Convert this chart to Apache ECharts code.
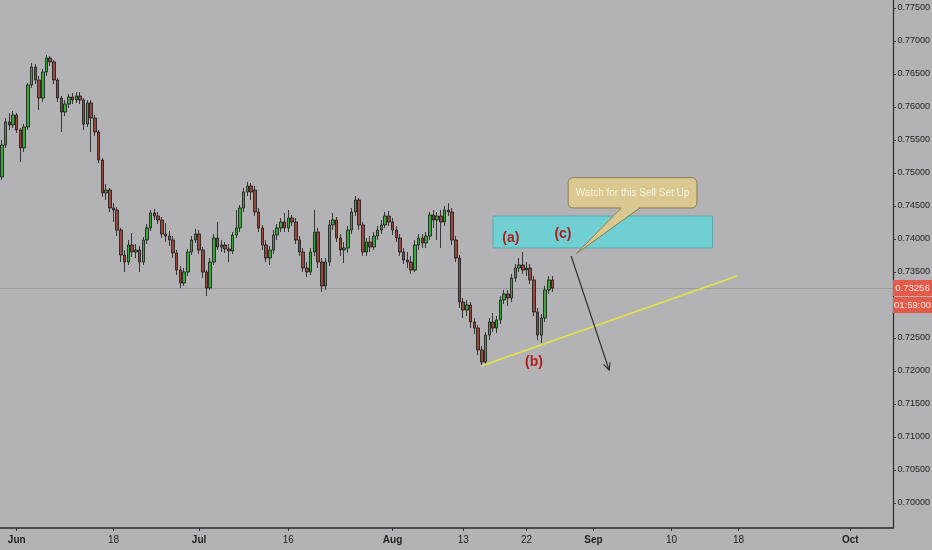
<!DOCTYPE html>
<html>
<head>
<meta charset="utf-8">
<script src="https://cdn.jsdelivr.net/npm/echarts@6/dist/echarts.min.js"></script>
<style>
html,body{margin:0;padding:0;background:#b3b3b5;}
#c{width:932px;height:550px;}
</style>
</head>
<body>
<div id="c"></div>
<script>
// ---- data ----
const SLOT_COUNT = 240; // time slots on the axis (candles + future space)
// candles: [open, close, low, high]
const candles = [
[0.74939,0.75424,0.74894,0.75500],[0.75424,0.75773,0.75379,0.75833],[0.75773,0.75727,0.75651,0.75909],[0.75727,0.75879,0.75682,0.75939],
[0.75879,0.75651,0.75606,0.75909],[0.75651,0.75379,0.75167,0.75682],[0.75379,0.75697,0.75318,0.75742],[0.75697,0.76333,0.75651,0.76364],
[0.76333,0.76606,0.76288,0.76667],[0.76606,0.76409,0.76348,0.76652],[0.76409,0.76136,0.75955,0.76470],[0.76136,0.76530,0.76076,0.76576],
[0.76530,0.76742,0.76470,0.76788],[0.76742,0.76682,0.76621,0.76773],[0.76682,0.76409,0.76348,0.76712],[0.76409,0.76136,0.76076,0.76439],
[0.76136,0.75924,0.75621,0.76167],[0.75924,0.76045,0.75864,0.76106],[0.76045,0.76151,0.75985,0.76197],[0.76151,0.76106,0.76045,0.76212],
[0.76106,0.76167,0.76061,0.76227],[0.76167,0.76106,0.76045,0.76227],[0.76106,0.75742,0.75651,0.76136],[0.75742,0.76061,0.75697,0.76106],
[0.76061,0.75833,0.75318,0.76106],[0.75833,0.75621,0.75561,0.75879],[0.75621,0.75197,0.75151,0.75651],[0.75197,0.74697,0.74636,0.75227],
[0.74697,0.74742,0.74591,0.74833],[0.74742,0.74470,0.74409,0.74773],[0.74470,0.74439,0.74258,0.74545],[0.74439,0.74136,0.74045,0.74485],
[0.74136,0.73757,0.73651,0.74167],[0.73757,0.73651,0.73500,0.73833],[0.73651,0.73909,0.73606,0.73985],[0.73909,0.73803,0.73727,0.74091],
[0.73803,0.73833,0.73712,0.73924],[0.73833,0.73651,0.73500,0.73894],[0.73651,0.73985,0.73606,0.74030],[0.73985,0.74167,0.73924,0.74227],
[0.74167,0.74394,0.74121,0.74439],[0.74394,0.74348,0.74288,0.74454],[0.74348,0.74288,0.74227,0.74409],[0.74288,0.74075,0.74015,0.74333],
[0.74075,0.74045,0.73954,0.74242],[0.74045,0.73985,0.73894,0.74121],[0.73985,0.73788,0.73712,0.74045],[0.73788,0.73530,0.73454,0.73833],
[0.73530,0.73333,0.73256,0.73591],[0.73333,0.73500,0.73288,0.73560],[0.73500,0.73803,0.73439,0.73848],[0.73803,0.73985,0.73757,0.74045],
[0.73985,0.74075,0.73939,0.74151],[0.74075,0.73833,0.73773,0.74136],[0.73833,0.73500,0.73409,0.73879],[0.73500,0.73256,0.73136,0.73530],
[0.73256,0.73651,0.73227,0.73712],[0.73651,0.74015,0.73606,0.74075],[0.74015,0.73879,0.73833,0.74258],[0.73879,0.73909,0.73803,0.73985],
[0.73909,0.73848,0.73788,0.73954],[0.73848,0.73818,0.73651,0.73924],[0.73818,0.74060,0.73773,0.74106],[0.74060,0.74167,0.74015,0.74439],
[0.74167,0.74470,0.74106,0.74515],[0.74470,0.74712,0.74409,0.74773],[0.74712,0.74803,0.74651,0.74864],[0.74803,0.74712,0.74591,0.74848],
[0.74742,0.74409,0.74348,0.74803],[0.74409,0.74167,0.74106,0.74470],[0.74167,0.73909,0.73833,0.74212],[0.73909,0.73712,0.73651,0.73985],
[0.73712,0.73833,0.73606,0.73894],[0.73833,0.74060,0.73773,0.74136],[0.74060,0.74167,0.73985,0.74227],[0.74167,0.74258,0.74106,0.74318],
[0.74258,0.74167,0.74106,0.74394],[0.74167,0.74318,0.74106,0.74439],[0.74318,0.74258,0.74197,0.74364],[0.74258,0.73985,0.73924,0.74318],
[0.73985,0.73803,0.73742,0.74045],[0.73803,0.73560,0.73500,0.73863],[0.73560,0.73500,0.73424,0.73651],[0.73500,0.73803,0.73454,0.73863],
[0.73803,0.74106,0.73742,0.74439],[0.74106,0.73651,0.73560,0.74167],[0.73651,0.73288,0.73197,0.73712],[0.73288,0.73651,0.73227,0.73712],
[0.73651,0.74212,0.73591,0.74288],[0.74212,0.74288,0.74136,0.74394],[0.74288,0.74015,0.73954,0.74333],[0.74015,0.73833,0.73742,0.74075],
[0.73833,0.73863,0.73636,0.73954],[0.73863,0.74136,0.73788,0.74197],[0.74136,0.74409,0.74075,0.74470],[0.74409,0.74591,0.74348,0.74651],
[0.74591,0.74212,0.74136,0.74621],[0.74212,0.73803,0.73742,0.74258],[0.73803,0.73954,0.73742,0.74015],[0.73954,0.73879,0.73803,0.74045],
[0.73879,0.74045,0.73833,0.74106],[0.74045,0.74136,0.73985,0.74197],[0.74136,0.74212,0.74075,0.74288],[0.74212,0.74348,0.74167,0.74409],
[0.74348,0.74258,0.74197,0.74424],[0.74258,0.74136,0.74060,0.74318],[0.74136,0.74015,0.73954,0.74197],[0.74015,0.73803,0.73742,0.74075],
[0.73803,0.73682,0.73621,0.73863],[0.73682,0.73651,0.73560,0.73803],[0.73651,0.73530,0.73470,0.73742],[0.73530,0.73909,0.73500,0.73985],
[0.73909,0.74015,0.73833,0.74075],[0.74015,0.73939,0.73863,0.74075],[0.73939,0.74045,0.73863,0.74106],[0.74045,0.74364,0.73985,0.74409],
[0.74364,0.74288,0.74167,0.74439],[0.74288,0.74348,0.73985,0.74409],[0.74348,0.74258,0.73863,0.74439],[0.74258,0.74439,0.74197,0.74500],
[0.74439,0.74409,0.74348,0.74545],[0.74409,0.73985,0.73909,0.74470],[0.73985,0.73712,0.73651,0.74045],[0.73712,0.73045,0.72954,0.73757],
[0.73045,0.72924,0.72803,0.73106],[0.72924,0.73000,0.72833,0.73076],[0.73000,0.72742,0.72651,0.73045],[0.72742,0.72651,0.72560,0.72803],
[0.72651,0.72318,0.72242,0.72697],[0.72318,0.72136,0.72076,0.72379],[0.72136,0.72545,0.72106,0.72591],[0.72545,0.72742,0.72469,0.72803],
[0.72742,0.72651,0.72591,0.72878],[0.72651,0.72773,0.72576,0.72833],[0.72773,0.73076,0.72712,0.73136],[0.73076,0.73167,0.73015,0.73227],
[0.73167,0.73106,0.72985,0.73227],[0.73106,0.73409,0.73045,0.73470],[0.73409,0.73560,0.73348,0.73621],[0.73560,0.73606,0.73500,0.73712],
[0.73606,0.73530,0.73470,0.73803],[0.73530,0.73560,0.73439,0.73651],[0.73560,0.73379,0.73318,0.73621],[0.73379,0.72894,0.72833,0.73439],
[0.72894,0.72545,0.72469,0.72954],[0.72545,0.72803,0.72424,0.72863],[0.72803,0.73227,0.72742,0.73288],[0.73227,0.73379,0.73167,0.73439],
[0.73379,0.73256,0.73197,0.73439]
];
// x-axis tick labels and the slot they sit on
const xLabelSlots = [4, 30, 53, 77, 105, 124, 141, 159, 180, 198, 228];
const xLabelTexts = ['Jun', '18', 'Jul', '16', 'Aug', '13', '22', 'Sep', '10', '18', 'Oct'];
const xLabelIsMonth = [true, false, true, false, true, false, false, true, false, false, true];
// y-axis tick labels
const yTicks = [0.700,0.705,0.710,0.715,0.720,0.725,0.730,0.735,0.740,0.745,0.750,0.755,0.760,0.765,0.770,0.775];
const yMin = 0.69621, yMax = 0.77621;
const lastPrice = 0.73256;
const countdown = '01:59:00';
// annotations (slot, price)
const zoneSlots = [132, 191];
const zonePrices = [0.74348, 0.73864];
const waveLabels = [['(a)', 136.8, 0.74015], ['(b)', 143.0, 0.72136], ['(c)', 150.8, 0.74075]];
const trendLine = [[128.8, 0.72076], [197.6, 0.73439]];
const arrowLine = [[153.0, 0.73742], [163.2, 0.72015]];
const calloutText = 'Watch for this Sell Set Up';
const calloutSlots = [152.2, 186.8];
const calloutPrices = [0.74930, 0.74470];
const calloutTailBase = [166.5, 171.5];
const calloutTip = [154.3, 0.73773];

// ---- chart ----
const slots = Array.from({length: SLOT_COUNT}, (_, i) => String(i));
const chart = echarts.init(document.getElementById('c'), null, {renderer: 'canvas'});
const FONT = 'Liberation Sans, Arial, sans-serif';
chart.setOption({
  backgroundColor: '#b3b3b5',
  animation: false,
  grid: {left: 0, right: 39, top: 0, bottom: 22, containLabel: false, outerBoundsMode: 'none'},
  xAxis: [{
    type: 'category', data: slots, boundaryGap: true,
    axisLine: {show: true, onZero: false, lineStyle: {color: '#2a2a2a', width: 1.5}},
    axisTick: {show: true, alignWithLabel: true, length: 3, lineStyle: {color: '#333'},
      interval: (i) => xLabelSlots.indexOf(i) >= 0},
    axisLabel: {
      interval: (i) => xLabelSlots.indexOf(i) >= 0,
      color: '#1e1e1e', fontSize: 10, fontFamily: FONT, margin: 7,
      formatter: (v, i) => {
        const k = xLabelSlots.indexOf(Number(v));
        if (k < 0) return '';
        return xLabelIsMonth[k] ? '{m|' + xLabelTexts[k] + '}' : xLabelTexts[k];
      },
      rich: {m: {fontWeight: 'bold', fontSize: 10, fontFamily: FONT, color: '#1e1e1e'}}
    },
    splitLine: {show: false}
  }, {
    type: 'value', show: false, min: -0.5, max: SLOT_COUNT - 0.5
  }],
  yAxis: {
    type: 'value', position: 'right', min: yMin, max: yMax, scale: true,
    axisLine: {show: true, onZero: false, lineStyle: {color: '#2a2a2a', width: 1.2}},
    axisTick: {show: true, length: 3, customValues: yTicks, lineStyle: {color: '#333'}},
    axisLabel: {customValues: yTicks, formatter: (v) => v.toFixed(5), color: '#1e1e1e',
      fontSize: 9, fontFamily: FONT, margin: 4.5},
    splitLine: {show: false}
  },
  series: [{
    type: 'candlestick',
    data: candles,
    barWidth: 3,
    z: 5,
    itemStyle: {color: '#3aa83c', color0: '#974a3b', borderColor: '#151515', borderColor0: '#151515', borderWidth: 0.8}
  }]
});

function px(slot, price) {
  return chart.convertToPixel({xAxisIndex: 1, yAxisIndex: 0}, [slot, price]);
}
const g = [];
// last price line
{
  const a = px(-0.5, lastPrice), b = px(SLOT_COUNT - 0.5, lastPrice);
  g.push({type: 'line', shape: {x1: a[0], y1: Math.round(a[1]) + 0.5, x2: b[0], y2: Math.round(b[1]) + 0.5},
    style: {stroke: '#9c9c9c', lineWidth: 1}, z: 1, silent: true});
}
// zone rectangle
{
  const a = px(zoneSlots[0], zonePrices[0]), b = px(zoneSlots[1], zonePrices[1]);
  g.push({type: 'rect', shape: {x: a[0], y: a[1], width: b[0] - a[0], height: b[1] - a[1]},
    style: {fill: '#6fcfd2', stroke: '#58a9b0', lineWidth: 1}, z: 10});
}
// trend line
{
  const a = px(...trendLine[0]), b = px(...trendLine[1]);
  g.push({type: 'line', shape: {x1: a[0], y1: a[1], x2: b[0], y2: b[1]},
    style: {stroke: '#e4e445', lineWidth: 1.5}, z: 11});
}
// arrow
{
  const a = px(...arrowLine[0]), b = px(...arrowLine[1]);
  g.push({type: 'line', shape: {x1: a[0], y1: a[1], x2: b[0], y2: b[1]},
    style: {stroke: '#2a2a2a', lineWidth: 1.1}, z: 12});
  const ang = Math.atan2(b[1] - a[1], b[0] - a[0]);
  const L = 8, sp = 0.45;
  g.push({type: 'polyline', shape: {points: [
      [b[0] - L * Math.cos(ang - sp), b[1] - L * Math.sin(ang - sp)], b,
      [b[0] - L * Math.cos(ang + sp), b[1] - L * Math.sin(ang + sp)]]},
    style: {stroke: '#2a2a2a', lineWidth: 1.1, fill: null}, z: 12});
}
// wave labels
waveLabels.forEach(([t, s, p]) => {
  const q = px(s, p);
  g.push({type: 'text', x: q[0], y: q[1], z: 13,
    style: {text: t, fill: '#ad1f1c', font: 'bold 14px ' + FONT, align: 'center', verticalAlign: 'middle'}});
});
// callout
{
  const a = px(calloutSlots[0], calloutPrices[0]), b = px(calloutSlots[1], calloutPrices[1]);
  const t1 = px(calloutTailBase[0], calloutPrices[1]), t2 = px(calloutTailBase[1], calloutPrices[1]);
  const tip = px(...calloutTip);
  g.push({type: 'rect', shape: {x: a[0], y: a[1], width: b[0] - a[0], height: b[1] - a[1], r: 5},
    style: {fill: '#d9c88f', stroke: '#8d7c4c', lineWidth: 1}, z: 14});
  g.push({type: 'polygon', shape: {points: [[t1[0], t1[1] - 1], tip, [t2[0], t2[1] - 1]]},
    style: {fill: '#d9c88f', stroke: null}, z: 15});
  g.push({type: 'polyline', shape: {points: [t1, tip, t2]},
    style: {stroke: '#8d7c4c', lineWidth: 1, fill: null}, z: 15});
  g.push({type: 'text', x: (a[0] + b[0]) / 2, y: (a[1] + b[1]) / 2, z: 16,
    style: {text: calloutText, fill: '#f7f1dc', font: '10px ' + FONT, align: 'center', verticalAlign: 'middle'}});
}
// last price tag on the axis
{
  const q = px(0, lastPrice);
  const ax = px(SLOT_COUNT - 0.5, lastPrice)[0];
  g.push({type: 'rect', shape: {x: ax, y: q[1] - 8, width: 932 - ax, height: 16},
    style: {fill: '#e25a49'}, z: 20});
  g.push({type: 'rect', shape: {x: ax, y: q[1] + 9, width: 932 - ax, height: 16},
    style: {fill: '#e25a49'}, z: 20});
  g.push({type: 'text', x: ax + 19.5, y: q[1], z: 21,
    style: {text: lastPrice.toFixed(5), fill: '#fbe9e4', font: '9.5px ' + FONT, align: 'center', verticalAlign: 'middle'}});
  g.push({type: 'text', x: ax + 19.5, y: q[1] + 17, z: 21,
    style: {text: countdown, fill: '#fbe9e4', font: '9.5px ' + FONT, align: 'center', verticalAlign: 'middle'}});
}
chart.setOption({graphic: g});
</script>
</body>
</html>
